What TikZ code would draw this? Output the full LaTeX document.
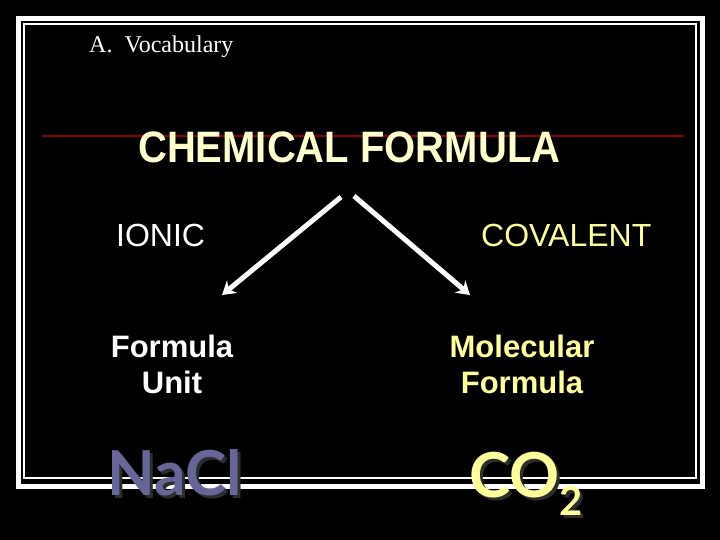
\documentclass[tikz,border=0pt]{standalone}
\usepackage{fontspec}
\usepackage{graphicx}
\setmainfont{Liberation Sans}
\newfontfamily\serifface{Liberation Serif}
\newfontfamily\chalkface{Lato}
\usetikzlibrary{arrows.meta,positioning}

\definecolor{cream}{RGB}{255,255,204}
\definecolor{paleyellow}{RGB}{255,255,153}
\definecolor{slate}{RGB}{102,102,153}
\definecolor{rulered}{RGB}{140,0,0}
\definecolor{shade}{RGB}{45,45,45}

\begin{document}
\begin{tikzpicture}[x=1pt, y=-1pt,
    every node/.style={inner sep=0pt, text=white},
    kind/.style={font=\fontsize{32}{36}\selectfont},
    name text/.style={font=\bfseries\fontsize{31}{36}\selectfont, align=center, anchor=north},
    formula text/.style={font=\chalkface\bfseries\fontsize{62}{62}\selectfont, anchor=base west},
    branch/.style={draw=white, line width=5pt, -{Stealth[length=13pt,width=16pt]}},
    ]
  % slide and frame
  \fill[black] (0,0) rectangle (720,540);
  \draw[white, line width=5pt] (18.5,18.5) rectangle (702.5,486.5);
  \draw[white, line width=1.2pt] (24,24) rectangle (696,478);
  \draw[rulered, line width=2pt] (42,136) -- (684,136);

  \node[anchor=base west, font=\serifface\fontsize{24}{24}\selectfont] (section) at (89,53) {A.\ \ Vocabulary};
  \node[anchor=base west, text=cream, font=\bfseries\fontsize{40}{40}\selectfont] (title) at (138,163)
      {\scalebox{1}[1.1]{CHEMICAL FORMULA}};

  \node[kind, anchor=base west] (ionic) at (116,247) {IONIC};
  \node[kind, anchor=base west, text=paleyellow] (covalent) at (481,247) {COVALENT};

  \coordinate (split left) at (341,197);
  \coordinate (split right) at (354,196);
  \coordinate (ionic end) at (222,295);
  \coordinate (covalent end) at (470,295);
  \draw[branch] (split left) -- (ionic end);
  \draw[branch] (split right) -- (covalent end);

  \node[name text] (unit) at (172,335) {Formula\\Unit};
  \node[name text, text=paleyellow] (molecular) at (522,335) {Molecular\\Formula};

  % formulas with drop shadow
  \node[formula text, text=shade] (nacl shadow) at (110,498) {NaCl};
  \node[formula text, text=slate] (nacl) at (107,495) {NaCl};
  \node[formula text, text=shade] (co2 shadow) at (472,500) {CO\raisebox{-18pt}{\fontsize{40}{40}\selectfont 2}};
  \node[formula text, text=paleyellow] (co2) at (469,497) {CO\raisebox{-18pt}{\fontsize{40}{40}\selectfont 2}};
\end{tikzpicture}
\end{document}
